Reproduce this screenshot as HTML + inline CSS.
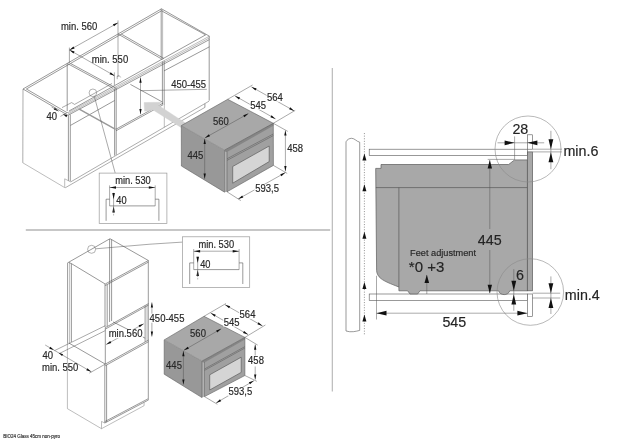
<!DOCTYPE html>
<html><head><meta charset="utf-8"><title>Installation dimensions</title>
<style>
html,body{margin:0;padding:0;background:#fff;}
body{width:625px;height:442px;overflow:hidden;}
svg{display:block;}
text{font-family:"Liberation Sans",sans-serif;stroke:#333;stroke-width:0.18px;}
.tx{filter:grayscale(1) blur(0.3px);}
.s{stroke:#545454;stroke-width:0.6;fill:none;}
.l{stroke:#7a7a7a;stroke-width:0.5;fill:none;}
.m{stroke:#686868;stroke-width:0.55;fill:none;}
.d{stroke:#555;stroke-width:0.5;fill:none;}
.o{stroke:#606060;stroke-width:0.6;fill:none;}
.o2{stroke:#777;stroke-width:0.5;fill:none;}
.b{stroke:#4a4a4a;stroke-width:0.6;fill:none;}
.r{stroke:#555;stroke-width:0.6;}
</style></head>
<body>
<svg width="625" height="442" viewBox="0 0 625 442">
<rect x="0" y="0" width="625" height="442" fill="#fff"/>
<g class="tx">
<line x1="25.8" y1="230" x2="330.2" y2="230" stroke="#b4b4b4" stroke-width="1.3"/>
<line x1="332.3" y1="68" x2="332.3" y2="391.5" stroke="#b4b4b4" stroke-width="1.1"/>
<path class="s" d="M68 115.3 L23 89 L161.5 8.8 L209.4 36.2"/>
<path class="s" d="M66.8 112.5 L26.4 89 L161.5 10.8 L205.6 34.9"/>
<line class="s" x1="69" y1="111" x2="205.6" y2="34.9"/>
<line class="l" x1="68" y1="112.6" x2="209.4" y2="36.2"/>
<line class="l" x1="68" y1="114" x2="209.4" y2="37.9"/>
<line class="s" x1="68" y1="115.3" x2="209.4" y2="39.6"/>
<line class="s" x1="67.6" y1="63.6" x2="112.5" y2="87.9"/>
<line class="s" x1="70.8" y1="63.6" x2="115.7" y2="87.9"/>
<line class="s" x1="118" y1="34" x2="160.6" y2="58.4"/>
<line class="s" x1="121.2" y1="34" x2="163.8" y2="58.4"/>
<line class="s" x1="67.2" y1="63.6" x2="67.2" y2="111"/>
<line class="d" x1="118" y1="20.4" x2="118" y2="77"/>
<line class="s" x1="161.2" y1="8.8" x2="161.2" y2="59.7"/>
<line class="l" x1="162.6" y1="10" x2="162.6" y2="59.7"/>
<line class="m" x1="23" y1="89" x2="22.8" y2="162.8"/>
<path class="l" d="M22.8 162.8 L64.7 187.6 L64.7 178.8 L70 181.5"/>
<line class="s" x1="68.4" y1="115.3" x2="68.4" y2="180.7"/>
<line class="s" x1="70.3" y1="114.5" x2="70.3" y2="181.5"/>
<line class="s" x1="70.5" y1="125.4" x2="114.6" y2="100.5"/>
<line class="s" x1="164" y1="70.9" x2="209.4" y2="46.8"/>
<line class="s" x1="209.2" y1="36.2" x2="209.2" y2="100.7"/>
<line class="m" x1="70.5" y1="182" x2="209" y2="101.2"/>
<line class="m" x1="65.2" y1="187.8" x2="204.9" y2="107.4"/>
<line class="s" x1="204.9" y1="107.4" x2="204.9" y2="103.7"/>
<line class="s" x1="114.6" y1="88.6" x2="114.6" y2="155.6"/>
<line class="s" x1="116.2" y1="87.8" x2="116.2" y2="154.8"/>
<line class="s" x1="162.4" y1="61.6" x2="162.4" y2="104.5"/>
<line class="s" x1="164.2" y1="60.8" x2="164.2" y2="105"/>
<line class="l" x1="164.3" y1="105" x2="164.3" y2="127.4"/>
<line x1="78.8" y1="108.8" x2="115.6" y2="129.4" stroke="#999" stroke-width="1.5"/>
<line class="s" x1="116" y1="129.2" x2="163" y2="103.2"/>
<line class="s" x1="116" y1="130.8" x2="163" y2="104.8"/>
<line class="s" x1="130.4" y1="84.4" x2="162.4" y2="102"/>
<path class="d" d="M62 107.6 L71.6 102.6 L74.6 104.4"/>
<line class="d" x1="74.6" y1="104.4" x2="112" y2="83.5"/>
<path class="d" d="M117.2 79.2 L117.2 76.2 L119.2 75.6 L120.6 77.4"/>
<circle cx="92.9" cy="92.8" r="3.8" fill="none" stroke="#666" stroke-width="0.5"/>
<line class="d" x1="94.3" y1="96.4" x2="115.2" y2="173.1"/>
<polygon points="144.1,102.6 161.5,102.2 158.3,105.2 188,124.7 183,128.7 153.2,110 144.6,111.2" fill="#d3d2d2" stroke="#cfcfcf" stroke-width="0.4"/>
<line class="d" x1="69.4" y1="47.6" x2="69.4" y2="63"/>
<line class="d" x1="69.5" y1="50" x2="118" y2="22.8"/>
<polygon points="69.5,50 73.47,46.45 74.6,48.46" fill="#111"/>
<polygon points="118,22.8 114.03,26.35 112.9,24.34" fill="#111"/>
<line class="d" x1="69.5" y1="50" x2="114.6" y2="75.8"/>
<polygon points="69.5,50 74.58,51.58 73.44,53.58" fill="#111"/>
<polygon points="114.6,75.8 109.52,74.22 110.66,72.22" fill="#111"/>
<line class="d" x1="114.4" y1="72.4" x2="114.4" y2="85"/>
<text transform="translate(60.9 30.3) scale(0.925 1)" font-size="10.26" fill="#222">min. 560</text>
<text transform="translate(91.8 63.2) scale(0.925 1)" font-size="10.26" fill="#222">min. 550</text>
<polygon points="58.6,111.2 53.75,109.57 54.88,107.68" fill="#111"/>
<polygon points="62.6,113.7 67.45,115.33 66.32,117.22" fill="#111"/>
<line class="d" x1="51.6" y1="107" x2="58.6" y2="111.2"/>
<line class="d" x1="60.4" y1="116.4" x2="68" y2="112.2"/>
<text transform="translate(46.6 119.9) scale(0.925 1)" font-size="10.26" fill="#222">40</text>
<line class="d" x1="140.5" y1="77.5" x2="140.5" y2="114.2"/>
<polygon points="140.5,77.5 141.65,82.7 139.35,82.7" fill="#111"/>
<polygon points="140.5,114.2 139.35,109 141.65,109" fill="#111"/>
<line class="d" x1="140.5" y1="90.7" x2="206.8" y2="89.3"/>
<text transform="translate(171.3 87.7) scale(0.925 1)" font-size="10.26" fill="#222">450-455</text>
<rect x="99.2" y="173.1" width="67.7" height="50.4" fill="#fff" stroke="#999" stroke-width="0.7"/>
<text transform="translate(115.2 184.4) scale(0.925 1)" font-size="10.04" fill="#222">min. 530</text>
<line class="d" x1="109.6" y1="187.5" x2="155.2" y2="187.5"/>
<polygon points="109.6,187.5 116,186.2 116,188.8" fill="#111"/>
<polygon points="155.2,187.5 148.8,188.8 148.8,186.2" fill="#111"/>
<line class="d" x1="109.6" y1="185.4" x2="109.6" y2="205.9"/>
<line class="d" x1="155.2" y1="185.4" x2="155.2" y2="205.9"/>
<path class="s" d="M106.1 220.8 L106.1 199.2 L109.6 199.2"/>
<path class="s" d="M155.2 199.2 L158.9 199.2 L158.9 220.8"/>
<line class="s" x1="109.6" y1="205.9" x2="155.2" y2="205.9"/>
<line class="d" x1="113.6" y1="192.8" x2="113.6" y2="206.2"/>
<polygon points="113.6,199.2 112.3,193 114.9,193" fill="#111"/>
<polygon points="113.6,206.2 114.9,212.4 112.3,212.4" fill="#111"/>
<line class="d" x1="113.6" y1="206.2" x2="113.6" y2="212"/>
<line class="d" x1="113.6" y1="212" x2="113.6" y2="216.4" stroke-dasharray="1.2 1"/>
<text transform="translate(116.3 204.2) scale(0.925 1)" font-size="10.04" fill="#222">40</text>
<polygon points="181.3,125.6 227.7,99.3 273.3,123.3 224.5,150.2" fill="#a8a8a8"/>
<polygon points="181.3,125.6 224.5,150.2 224.6,192.2 181.4,166" fill="#989898"/>
<polygon points="224.5,150.2 227,151.4 227,191.8 224.6,192.2" fill="#b2b2b2"/>
<polygon points="227,151.4 273.3,123.3 273.4,165.4 227,191.8" fill="#a0a0a0"/>
<path class="o" d="M181.3 125.6 L227.7 99.3 L273.3 123.3"/>
<path class="o" d="M181.3 125.6 L181.4 166 L224.6 192.2"/>
<line class="o" x1="224.5" y1="150.2" x2="224.6" y2="192.2"/>
<line class="o2" x1="181.3" y1="125.6" x2="224.5" y2="150.2"/>
<polygon points="224.5,150.2 273.3,123.3 273.3,125.7 227,152 224.5,151.4" fill="#858585"/>
<line x1="224.5" y1="150.2" x2="273.3" y2="123.3" stroke="#666" stroke-width="0.8"/>
<path class="o" d="M227 151.4 L227 191.8 L273.4 165.4 L273.3 123.3"/>
<line class="o" x1="227" y1="158.8" x2="273.3" y2="134"/>
<line class="o" x1="227" y1="160.4" x2="273.3" y2="135.6"/>
<polygon points="232.7,166.5 269.2,146 269.2,161.6 232.7,183.2" fill="#d5d5d5" stroke="#5c5c5c" stroke-width="0.7"/>
<line class="d" x1="227.7" y1="99.3" x2="252.6" y2="85"/>
<line class="d" x1="235" y1="95.9" x2="275.5" y2="118.9"/>
<polygon points="235,95.9 240.09,97.47 238.95,99.47" fill="#111"/>
<polygon points="275.5,118.9 270.41,117.33 271.55,115.33" fill="#111"/>
<line class="d" x1="251.5" y1="86.9" x2="294.2" y2="110.9"/>
<polygon points="251.5,86.9 256.6,88.45 255.47,90.45" fill="#111"/>
<polygon points="294.2,110.9 289.1,109.35 290.23,107.35" fill="#111"/>
<line class="d" x1="273.3" y1="123.3" x2="295.2" y2="110.4"/>
<rect x="249.8" y="101.3" width="16.6" height="8.3" fill="#fff"/>
<text transform="translate(250.2 109) scale(0.925 1)" font-size="10.26" fill="#222">545</text>
<rect x="266.6" y="93.3" width="15.9" height="8.3" fill="#fff"/>
<text transform="translate(267 101) scale(0.925 1)" font-size="10.26" fill="#222">564</text>
<line class="d" x1="204.9" y1="137.9" x2="248.4" y2="113.6"/>
<polygon points="204.9,137.9 208.88,134.36 210,136.37" fill="#111"/>
<polygon points="248.4,113.6 244.42,117.14 243.3,115.13" fill="#111"/>
<text transform="translate(212.9 124.6) scale(0.925 1)" font-size="10.26" fill="#222">560</text>
<line class="d" x1="204.7" y1="138.8" x2="204.7" y2="178.8"/>
<polygon points="204.7,138.8 205.85,144 203.55,144" fill="#111"/>
<polygon points="204.7,178.8 203.55,173.6 205.85,173.6" fill="#111"/>
<text transform="translate(187.5 158.9) scale(0.925 1)" font-size="10.26" fill="#222">445</text>
<line class="d" x1="273.3" y1="123.3" x2="287.8" y2="131.4"/>
<line class="d" x1="285.4" y1="130.4" x2="285.4" y2="171.2"/>
<polygon points="285.4,130.4 286.55,135.6 284.25,135.6" fill="#111"/>
<polygon points="285.4,171.2 284.25,166 286.55,166" fill="#111"/>
<text transform="translate(287.2 152.3) scale(0.925 1)" font-size="10.26" fill="#222">458</text>
<line class="d" x1="273.4" y1="165.4" x2="287.2" y2="173.4"/>
<line class="d" x1="227" y1="191.8" x2="240.8" y2="200.6"/>
<line class="d" x1="238.2" y1="199" x2="285.4" y2="172.6"/>
<polygon points="238.2,199 242.18,195.46 243.3,197.47" fill="#111"/>
<polygon points="285.4,172.6 281.42,176.14 280.3,174.13" fill="#111"/>
<rect x="254.5" y="184.3" width="25" height="8.6" fill="#fff"/>
<text transform="translate(255.2 191.8) scale(0.925 1)" font-size="10.26" fill="#222">593,5</text>
<path class="s" d="M68.4 262.4 L110 238.7 L148.4 260.5"/>
<line class="s" x1="71.4" y1="263.6" x2="105.2" y2="284"/>
<line class="s" x1="105.2" y1="284" x2="148.4" y2="260.5"/>
<line class="s" x1="105.2" y1="285.6" x2="148.4" y2="262.1"/>
<line class="s" x1="68.4" y1="262.4" x2="71.4" y2="263.6"/>
<line class="s" x1="67.6" y1="262.6" x2="67.6" y2="343.6"/>
<line class="l" x1="69.6" y1="262.2" x2="69.6" y2="343.6"/>
<line class="s" x1="71.4" y1="263.6" x2="71.4" y2="342"/>
<line class="l" x1="67.4" y1="343.6" x2="67.4" y2="408.6"/>
<line class="s" x1="109.6" y1="239" x2="109.6" y2="322"/>
<line class="s" x1="111.6" y1="239.6" x2="111.6" y2="321"/>
<line class="s" x1="105" y1="284" x2="105" y2="327"/>
<line class="s" x1="107.2" y1="284.6" x2="107.2" y2="326"/>
<line class="s" x1="148.3" y1="260.5" x2="148.3" y2="400.3"/>
<line class="s" x1="145.1" y1="305.6" x2="145.1" y2="341.8"/>
<line class="l" x1="147" y1="304.6" x2="147" y2="340.8"/>
<line class="s" x1="105.3" y1="327.6" x2="148.5" y2="303.6"/>
<line class="s" x1="105.3" y1="329.1" x2="148.5" y2="305.1"/>
<line class="s" x1="105.3" y1="364.1" x2="148.5" y2="340.1"/>
<line class="s" x1="105.3" y1="365.7" x2="148.5" y2="341.7"/>
<line class="s" x1="105.3" y1="327.6" x2="105.3" y2="364.1"/>
<line class="d" x1="54.4" y1="350.7" x2="105.3" y2="325.7"/>
<line class="d" x1="59.2" y1="353.6" x2="105.3" y2="330.6"/>
<line class="s" x1="68.8" y1="343" x2="105.3" y2="364.1"/>
<line class="s" x1="113" y1="321.9" x2="145.2" y2="338.2"/>
<line class="s" x1="104.8" y1="364.4" x2="104.8" y2="423"/>
<line class="s" x1="106.6" y1="364.8" x2="106.6" y2="422.2"/>
<line class="s" x1="104.8" y1="423" x2="147.9" y2="400.3"/>
<line class="s" x1="104.8" y1="421.6" x2="147.9" y2="398.9"/>
<path class="l" d="M67.3 408.6 L101.5 428.7 L101.5 421.4 L104.7 423"/>
<path class="l" d="M101.5 428.7 L144.1 405.7 L144.1 402.6"/>
<circle cx="91.6" cy="249.3" r="4" fill="none" stroke="#666" stroke-width="0.5"/>
<path class="d" d="M95.6 248.8 L150 244.2 L182.5 242.1"/>
<line class="d" x1="45.2" y1="345" x2="91.3" y2="371.8"/>
<polygon points="53.8,350 49.27,348.64 50.37,346.74" fill="#111"/>
<polygon points="58.6,352.8 63.13,354.16 62.03,356.06" fill="#111"/>
<polygon points="91.3,371.8 86.22,370.19 87.38,368.2" fill="#111"/>
<line class="d" x1="105.3" y1="364.1" x2="89.4" y2="373.1"/>
<text transform="translate(42.4 359.4) scale(0.925 1)" font-size="10.26" fill="#222">40</text>
<text transform="translate(42 370.9) scale(0.925 1)" font-size="10.26" fill="#222">min. 550</text>
<line class="d" x1="106.2" y1="344.5" x2="143.7" y2="323.8"/>
<polygon points="106.2,344.5 110.2,340.98 111.31,342.99" fill="#111"/>
<polygon points="143.7,323.8 139.7,327.32 138.59,325.31" fill="#111"/>
<rect x="108.2" y="329.6" width="34.6" height="8.6" fill="#fff"/>
<text transform="translate(108.7 337.3) scale(0.925 1)" font-size="10.26" fill="#222">min.560</text>
<line class="d" x1="151.9" y1="302.4" x2="151.9" y2="336.6"/>
<polygon points="151.9,302.4 153.05,307.6 150.75,307.6" fill="#111"/>
<polygon points="151.9,336.6 150.75,331.4 153.05,331.4" fill="#111"/>
<rect x="149.4" y="313.6" width="33.4" height="9.2" fill="#fff"/>
<text transform="translate(149.6 322) scale(0.925 1)" font-size="10.26" fill="#222">450-455</text>
<rect x="182.5" y="236.8" width="67.2" height="50.7" fill="#fff" stroke="#999" stroke-width="0.7"/>
<text transform="translate(198.5 247.6) scale(0.925 1)" font-size="10.04" fill="#222">min. 530</text>
<line class="d" x1="193.7" y1="251.2" x2="239.1" y2="251.2"/>
<polygon points="193.7,251.2 200.1,249.9 200.1,252.5" fill="#111"/>
<polygon points="239.1,251.2 232.7,252.5 232.7,249.9" fill="#111"/>
<line class="d" x1="193.7" y1="249" x2="193.7" y2="269.6"/>
<line class="d" x1="239.1" y1="249" x2="239.1" y2="269.6"/>
<path class="s" d="M189.7 284 L189.7 262.9 L193.7 262.9"/>
<path class="s" d="M239.1 262.9 L242.8 262.9 L242.8 284"/>
<line class="s" x1="193.7" y1="269.6" x2="239.1" y2="269.6"/>
<line class="d" x1="197.7" y1="256.8" x2="197.7" y2="269.9"/>
<polygon points="197.7,262.9 196.4,256.7 199,256.7" fill="#111"/>
<polygon points="197.7,269.9 199,276.1 196.4,276.1" fill="#111"/>
<line class="d" x1="197.7" y1="269.9" x2="197.7" y2="276"/>
<line class="d" x1="197.7" y1="276" x2="197.7" y2="280.4" stroke-dasharray="1.2 1"/>
<text transform="translate(200.2 268.1) scale(0.925 1)" font-size="10.04" fill="#222">40</text>
<polygon points="164.2,339.9 204,316.3 244.9,337.4 202,361.1" fill="#a8a8a8"/>
<polygon points="164.2,339.9 202,361.1 202,397.6 164.2,374.2" fill="#989898"/>
<polygon points="202,361.1 204.5,362 204.5,396.6 202,397.6" fill="#b2b2b2"/>
<polygon points="204.5,362 244.9,337.4 244.9,375.5 204.5,396.6" fill="#a0a0a0"/>
<path class="o" d="M164.2 339.9 L204 316.3 L244.9 337.4"/>
<path class="o" d="M164.2 339.9 L164.2 374.2 L202 397.6"/>
<line class="o" x1="202" y1="361.1" x2="202" y2="397.6"/>
<line class="o2" x1="164.2" y1="339.9" x2="202" y2="361.1"/>
<polygon points="202,361.1 244.9,337.4 244.9,339.56 204.5,362.54 202,362.18" fill="#858585"/>
<line x1="202" y1="361.1" x2="244.9" y2="337.4" stroke="#666" stroke-width="0.72"/>
<path class="o" d="M204.5 362 L204.5 396.6 L244.9 375.5 L244.9 337.4"/>
<line class="o" x1="204.5" y1="369" x2="244.9" y2="346.6"/>
<line class="o" x1="204.5" y1="370.4" x2="244.9" y2="348"/>
<polygon points="209.7,374.8 241.2,357.2 241.2,372.4 209.7,390" fill="#d5d5d5" stroke="#5c5c5c" stroke-width="0.7"/>
<line class="d" x1="204" y1="316.3" x2="226" y2="303.5"/>
<line class="d" x1="210.7" y1="313.1" x2="248.1" y2="334.6"/>
<polygon points="210.7,313.1 215.78,314.69 214.64,316.69" fill="#111"/>
<polygon points="248.1,334.6 243.02,333.01 244.16,331.01" fill="#111"/>
<line class="d" x1="225.1" y1="304.8" x2="262.5" y2="325.9"/>
<polygon points="225.1,304.8 230.19,306.35 229.06,308.36" fill="#111"/>
<polygon points="262.5,325.9 257.41,324.35 258.54,322.34" fill="#111"/>
<line class="d" x1="244.9" y1="337.4" x2="265.4" y2="325"/>
<rect x="223.2" y="318.6" width="16.4" height="8" fill="#fff"/>
<text transform="translate(223.7 326) scale(0.925 1)" font-size="10.26" fill="#222">545</text>
<rect x="239.2" y="310.8" width="16.2" height="8" fill="#fff"/>
<text transform="translate(239.6 318.3) scale(0.925 1)" font-size="10.26" fill="#222">564</text>
<line class="d" x1="183.8" y1="350.3" x2="221.2" y2="328.8"/>
<polygon points="183.8,350.3 187.74,346.71 188.88,348.71" fill="#111"/>
<polygon points="221.2,328.8 217.26,332.39 216.12,330.39" fill="#111"/>
<text transform="translate(190.1 337.2) scale(0.925 1)" font-size="10.26" fill="#222">560</text>
<line class="d" x1="183.4" y1="351" x2="183.4" y2="384.6"/>
<polygon points="183.4,351 184.55,356.2 182.25,356.2" fill="#111"/>
<polygon points="183.4,384.6 182.25,379.4 184.55,379.4" fill="#111"/>
<text transform="translate(166.1 369.2) scale(0.925 1)" font-size="10.26" fill="#222">445</text>
<line class="d" x1="244.9" y1="337.4" x2="257.7" y2="345.1"/>
<line class="d" x1="255.2" y1="344.5" x2="255.2" y2="355.5"/>
<line class="d" x1="255.2" y1="366.5" x2="255.2" y2="379.6"/>
<polygon points="255.2,344.5 256.35,349.7 254.05,349.7" fill="#111"/>
<polygon points="255.2,379.6 254.05,374.4 256.35,374.4" fill="#111"/>
<text transform="translate(248.1 364.4) scale(0.925 1)" font-size="10.26" fill="#222">458</text>
<line class="d" x1="244.9" y1="375.5" x2="256.8" y2="381.3"/>
<line class="d" x1="204.5" y1="396.6" x2="217.4" y2="404.3"/>
<line class="d" x1="216.1" y1="403" x2="253.9" y2="380.7"/>
<polygon points="216.1,403 219.99,399.37 221.16,401.35" fill="#111"/>
<polygon points="253.9,380.7 250.01,384.33 248.84,382.35" fill="#111"/>
<rect x="228" y="387.3" width="24.6" height="8.5" fill="#fff"/>
<text transform="translate(228.5 394.8) scale(0.925 1)" font-size="10.26" fill="#222">593,5</text>
<text x="3.2" y="437.6" font-size="4.5" fill="#444">BIO24 Glass 45cm non-pyro</text>
<path class="r" fill="#fff" d="M346 331 L346 141.8 C347 139.6 349.4 138.3 351.6 138.3 C354.6 138.3 356.4 141.4 359.7 142.2 L359.7 330.4 C356 331.4 351 332.6 346 331 Z"/>
<line x1="364.4" y1="133" x2="364.4" y2="334.3" stroke="#555" stroke-width="0.6" stroke-dasharray="1.1 1.5"/>
<polygon points="364.4,153.6 366.4,160.6 362.4,160.6" fill="#111"/>
<polygon points="364.4,184.3 366.4,191.3 362.4,191.3" fill="#111"/>
<polygon points="364.4,231.7 366.4,238.7 362.4,238.7" fill="#111"/>
<polygon points="364.4,281.9 366.4,288.9 362.4,288.9" fill="#111"/>
<polygon points="364.4,314.5 366.4,321.5 362.4,321.5" fill="#111"/>
<rect class="r" fill="#fff" x="369.2" y="149.2" width="158.2" height="6.4"/>
<rect class="r" fill="#fff" x="369.2" y="294" width="158.2" height="6.5"/>
<path d="M375.7 168.4 L381 168.4 L381 164.5 L508.6 164.5 L514.6 159.9 L527.4 159.9 L527.4 290.8 L509.8 290.8 C509 293.4 506.5 294.6 504.2 294.6 C501.6 294.6 499.4 293.4 498.6 290.8 L420 290.8 L417.6 294 L410 294 L407.6 290.8 L398.9 290.8 L398.9 287 C390 283.6 384.6 281.4 381 278.6 C378 276.2 376.8 273.6 376.6 270.6 Z" fill="#a9a8a8" stroke="#5a5a5a" stroke-width="0.7"/>
<line class="b" x1="375.9" y1="187.6" x2="527.4" y2="187.6"/>
<line class="b" x1="398.9" y1="187.6" x2="398.9" y2="287"/>
<rect x="527.4" y="151.9" width="5.1" height="138.9" fill="#a9a8a8" stroke="#5a5a5a" stroke-width="0.7"/>
<rect class="r" fill="#fff" x="527.4" y="134.8" width="5.1" height="14.4"/>
<rect class="r" fill="#fff" x="527.4" y="294" width="5.1" height="22.4"/>
<circle cx="528" cy="149" r="33" fill="none" stroke="#8a8a8a" stroke-width="0.6"/>
<circle cx="530.3" cy="292" r="33.3" fill="none" stroke="#8a8a8a" stroke-width="0.6"/>
<line class="d" x1="497.5" y1="142.8" x2="544.2" y2="142.8"/>
<polygon points="514.6,142.8 504.6,145.2 504.6,140.4" fill="#111"/>
<polygon points="527.4,142.8 537.4,140.4 537.4,145.2" fill="#111"/>
<line class="d" x1="514.6" y1="136.4" x2="514.6" y2="159.6"/>
<text x="512.4" y="133.8" font-size="14.3" fill="#222">28</text>
<line class="d" x1="532.5" y1="149.2" x2="561.8" y2="149.2"/>
<line class="d" x1="532.5" y1="151.9" x2="561.8" y2="151.9"/>
<line class="d" x1="550.9" y1="130.8" x2="550.9" y2="169.2"/>
<polygon points="550.9,149.2 548.5,139.2 553.3,139.2" fill="#111"/>
<polygon points="550.9,152.2 553.3,162.2 548.5,162.2" fill="#111"/>
<text x="563.4" y="155.8" font-size="14.3" fill="#222">min.6</text>
<line class="d" x1="487.7" y1="159.4" x2="514.6" y2="159.4"/>
<line class="d" x1="489.8" y1="160" x2="489.8" y2="229"/>
<line class="d" x1="489.8" y1="250" x2="489.8" y2="293"/>
<polygon points="489.8,159.9 492,168.5 487.6,168.5" fill="#111"/>
<polygon points="489.8,293.4 487.6,284.8 492,284.8" fill="#111"/>
<text x="477.8" y="244.8" font-size="14.3" fill="#222">445</text>
<line class="d" x1="513.8" y1="269.2" x2="513.8" y2="310.8"/>
<polygon points="513.8,290.8 511.4,280.8 516.2,280.8" fill="#111"/>
<polygon points="513.8,294.5 516.2,304.5 511.4,304.5" fill="#111"/>
<text x="516" y="280" font-size="14.3" fill="#222">6</text>
<line class="d" x1="532.5" y1="293.2" x2="560.2" y2="293.2"/>
<line class="d" x1="532.5" y1="298" x2="560.2" y2="298"/>
<line class="d" x1="550.9" y1="276.4" x2="550.9" y2="314"/>
<polygon points="550.9,293.2 548.5,283.2 553.3,283.2" fill="#111"/>
<polygon points="550.9,298 553.3,308 548.5,308" fill="#111"/>
<text x="564.8" y="300.4" font-size="14.3" fill="#222">min.4</text>
<line class="d" x1="376.5" y1="275.8" x2="376.5" y2="319.5"/>
<line class="d" x1="376.5" y1="313.2" x2="527.4" y2="313.2"/>
<polygon points="376.5,313.2 386.5,310.8 386.5,315.6" fill="#111"/>
<polygon points="527.4,313.2 517.4,315.6 517.4,310.8" fill="#111"/>
<text x="442.4" y="326.7" font-size="14.3" fill="#222">545</text>
<line class="d" x1="426.8" y1="275" x2="426.8" y2="294"/>
<polygon points="426.8,274.7 429.1,282.9 424.5,282.9" fill="#111"/>
<text transform="translate(410.1 255.8) scale(0.925 1)" font-size="9.94" fill="#222">Feet adjustment</text>
<text x="408.8" y="271.8" font-size="15" fill="#222">*0 +3</text>
</g>
</svg>
</body></html>
